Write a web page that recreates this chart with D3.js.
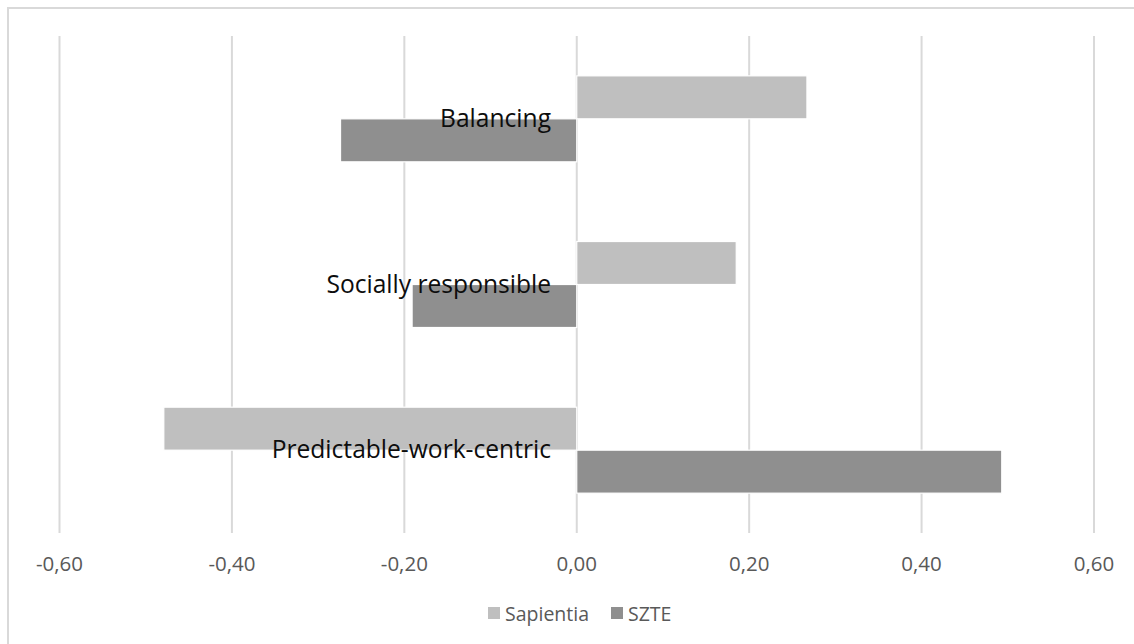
<!DOCTYPE html>
<html>
<head>
<meta charset="utf-8">
<script src="https://cdn.jsdelivr.net/npm/d3@7"></script>
<style>
  html, body { margin: 0; padding: 0; background: #fff; }
  svg { display: block; }
</style>
</head>
<body>
<svg id="chart" width="1134" height="644"></svg>
<script>
const categories = ["Balancing", "Socially responsible", "Predictable-work-centric"];
const seriesNames = ["Sapientia", "SZTE"];
const sapientia = [0.267, 0.185, -0.479];
const szte = [-0.274, -0.191, 0.493];
const tickValues = [-0.6, -0.4, -0.2, 0, 0.2, 0.4, 0.6];
const colors = ["#bfbfbf", "#8f8f8f"];

const svg = d3.select("#chart");
const W = 1134, H = 644;

// outer border (chart area frame)
svg.append("rect")
  .attr("x", 8).attr("y", 8)
  .attr("width", W + 10).attr("height", H + 10)
  .attr("fill", "#fff").attr("stroke", "#d9d9d9").attr("stroke-width", 2);

const x = d3.scaleLinear().domain([-0.6, 0.6]).range([59.5, 1094]);
const y = d3.scaleBand().domain(categories).range([36, 533])
  .paddingInner(0.481).paddingOuter(0.2405);
const ySub = d3.scaleBand().domain(seriesNames).range([0, y.bandwidth()]);

// gridlines
svg.append("g").selectAll("line").data(tickValues).join("line")
  .attr("x1", d => x(d)).attr("x2", d => x(d))
  .attr("y1", 36).attr("y2", 533)
  .attr("stroke", "#d9d9d9").attr("stroke-width", 2);

// bars
const series = [sapientia, szte];
series.forEach((vals, si) => {
  svg.append("g").selectAll("rect").data(vals).join("rect")
    .attr("x", d => x(Math.min(0, d)))
    .attr("width", d => Math.abs(x(d) - x(0)))
    .attr("y", (d, i) => y(categories[i]) + ySub(seriesNames[si]))
    .attr("height", ySub.bandwidth())
    .attr("fill", colors[si])
    .attr("stroke", "#fff").attr("stroke-width", 1.2);
});

// category labels
svg.append("g").selectAll("text").data(categories).join("text")
  .attr("x", 551)
  .attr("y", d => y(d) + y.bandwidth() / 2 + 8)
  .attr("text-anchor", "end")
  .attr("font-family", "'Open Sans', sans-serif")
  .attr("font-size", 24.6)
  .attr("fill", "#0d0d0d")
  .text(d => d);

// x axis tick labels
const fmt = v => d3.format(".2f")(v).replace(".", ",").replace("−", "-");
svg.append("g").selectAll("text").data(tickValues).join("text")
  .attr("x", d => x(d))
  .attr("y", 571)
  .attr("text-anchor", "middle")
  .attr("font-family", "'Open Sans', sans-serif")
  .attr("font-size", 20.5)
  .attr("fill", "#595959")
  .text(d => fmt(d));

// legend
const legendItems = [
  { name: seriesNames[0], color: colors[0], sx: 488, tx: 505 },
  { name: seriesNames[1], color: colors[1], sx: 611, tx: 628 }
];
const lg = svg.append("g");
legendItems.forEach(it => {
  lg.append("rect").attr("x", it.sx).attr("y", 607).attr("width", 12).attr("height", 12).attr("fill", it.color);
  lg.append("text").attr("x", it.tx).attr("y", 621)
    .attr("font-family", "'Open Sans', sans-serif")
    .attr("font-size", 19.5)
    .attr("fill", "#595959")
    .text(it.name);
});
</script>
</body>
</html>
